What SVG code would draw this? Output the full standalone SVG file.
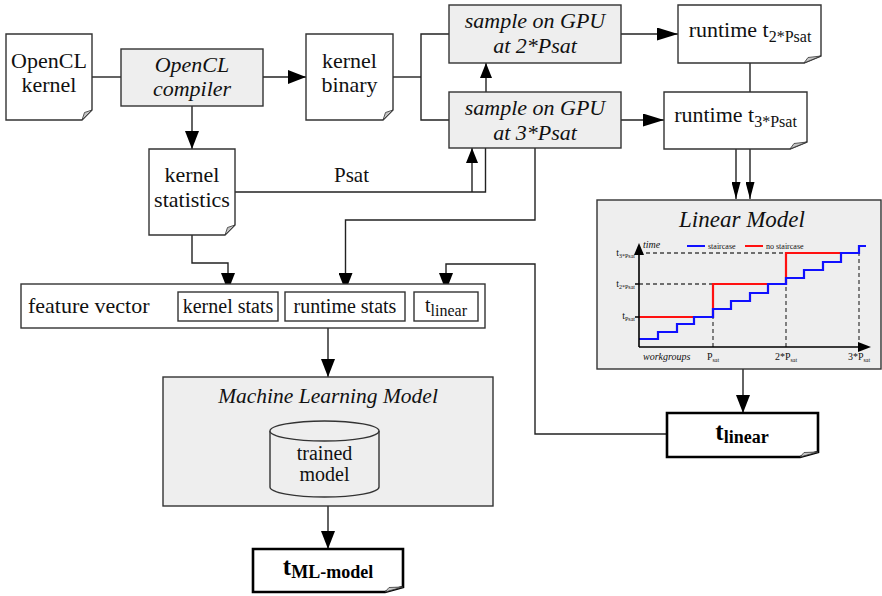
<svg xmlns="http://www.w3.org/2000/svg" width="882" height="596" viewBox="0 0 882 596">
  <defs>
    <style>
      .box{fill:#eeeeee;stroke:#333;stroke-width:1.4}
      .doc{fill:#fff;stroke:#333;stroke-width:1.4}
      .docb{fill:#fff;stroke:#000;stroke-width:2.6}
      .fold{fill:#c4c4c4;stroke:#333;stroke-width:0.8}
      .plain{fill:#fff;stroke:#333;stroke-width:1.4}
      .wire{fill:none;stroke:#222;stroke-width:1.4}
      .dash{fill:none;stroke:#444;stroke-width:1.3;stroke-dasharray:4 3}
      .axis{fill:none;stroke:#000;stroke-width:1.6}
      .blue{fill:none;stroke:#1010ff;stroke-width:2.2}
      .red{fill:none;stroke:#ff1010;stroke-width:2.2}
      text{font-family:"Liberation Serif","Times New Roman",serif;fill:#111}
      .t22{font-size:22px;text-anchor:middle}
      .i22{font-size:22px;font-style:italic;text-anchor:middle}
      .t20{font-size:20px;text-anchor:middle}
      .b25{font-size:25px;font-weight:bold;text-anchor:middle;fill:#000}
      .ax{font-size:10px}
      .axi{font-size:10px;font-style:italic}
      .leg{font-size:8px}
    </style>
    <marker id="arr" markerUnits="userSpaceOnUse" markerWidth="18" markerHeight="14" refX="18" refY="7" orient="auto">
      <path d="M0,0 L18,7 L0,14 Z" fill="#000"/>
    </marker>
    <marker id="arrL" markerUnits="userSpaceOnUse" markerWidth="21" markerHeight="13" refX="21" refY="6.5" orient="auto">
      <path d="M0,0 L21,6.5 L0,13 Z" fill="#000"/>
    </marker>
    <marker id="arrS" markerUnits="userSpaceOnUse" markerWidth="15" markerHeight="12" refX="15" refY="6" orient="auto">
      <path d="M0,0 L15,6 L0,12 Z" fill="#000"/>
    </marker>
    <marker id="arrN" markerUnits="userSpaceOnUse" markerWidth="17" markerHeight="9" refX="17" refY="4.5" orient="auto">
      <path d="M0,0 L17,4.5 L0,9 Z" fill="#000"/>
    </marker>
  </defs>

  <rect width="882" height="596" fill="#fff"/>

  <!-- connectors -->
  <g id="connectors">
    <path class="wire" d="M92,77 H121"/>
    <path class="wire" d="M263,77 H306" marker-end="url(#arr)"/>
    <path class="wire" d="M192,106 V149" marker-end="url(#arr)"/>
    <path class="wire" d="M393,77 H421"/>
    <path class="wire" d="M449,34 H421 V120 H449"/>
    <path class="wire" d="M486,92 V63" marker-end="url(#arrS)"/>
    <path class="wire" d="M235,192 H485.5 V148"/>
    <path class="wire" d="M472,192 V148" marker-end="url(#arrS)"/>
    <path class="wire" d="M535,148 V220 H345.5 V291" marker-end="url(#arr)"/>
    <path class="wire" d="M192,235 V263 H228 V291" marker-end="url(#arr)"/>
    <path class="wire" d="M667,434 H535 V264 H446 V291" marker-end="url(#arr)"/>
    <path class="wire" d="M621,34 H678" marker-end="url(#arrL)"/>
    <path class="wire" d="M621,120 H664" marker-end="url(#arrL)"/>
    <path class="wire" d="M750,63 V92"/>
    <path class="wire" d="M736,149 V199" marker-end="url(#arrN)"/>
    <path class="wire" d="M750,149 V199" marker-end="url(#arrN)"/>
    <path class="wire" d="M743,369 V413" marker-end="url(#arr)"/>
    <path class="wire" d="M328,328 V377" marker-end="url(#arr)"/>
    <path class="wire" d="M328,506 V549" marker-end="url(#arr)"/>
    <text x="351.5" y="182" font-size="21" text-anchor="middle">Psat</text>
  </g>

  <!-- source kernel -->
  <g id="opencl-kernel">
    <path class="doc" d="M6,34 H92 V110 L82,120 H6 Z"/>
    <path class="fold" d="M92,110 L82,120 L84.5,112.5 Z"/>
    <text class="t22" x="49" y="68">OpenCL</text>
    <text class="t22" x="49" y="92">kernel</text>
  </g>

  <g id="opencl-compiler">
    <rect class="box" x="121" y="49" width="142" height="57"/>
    <text class="i22" x="192" y="72">OpenCL</text>
    <text class="i22" x="192" y="96">compiler</text>
  </g>

  <g id="kernel-binary">
    <path class="doc" d="M306,34 H393 V110 L383,120 H306 Z"/>
    <path class="fold" d="M393,110 L383,120 L385.5,112.5 Z"/>
    <text class="t22" x="349.5" y="68">kernel</text>
    <text class="t22" x="349.5" y="92">binary</text>
  </g>

  <g id="kernel-statistics">
    <path class="doc" d="M149,149 H235 V225 L225,235 H149 Z"/>
    <path class="fold" d="M235,225 L225,235 L227.5,227.5 Z"/>
    <text class="t22" x="192" y="182">kernel</text>
    <text class="t22" x="192" y="207">statistics</text>
  </g>

  <g id="sample-2psat">
    <rect class="box" x="449" y="5" width="172" height="58"/>
    <text class="i22" x="535" y="28">sample on GPU</text>
    <text class="i22" x="535" y="53">at 2*Psat</text>
  </g>

  <g id="sample-3psat">
    <rect class="box" x="449" y="92" width="172" height="56"/>
    <text class="i22" x="535" y="115">sample on GPU</text>
    <text class="i22" x="535" y="140">at 3*Psat</text>
  </g>

  <g id="runtime-2psat">
    <path class="doc" d="M678,5 H821 V56 L804,63 H678 Z"/>
    <path class="fold" d="M821,56 L804,63 L808,57.5 Z"/>
    <text class="t22" x="750" y="37">runtime t<tspan font-size="16" dy="5">2*Psat</tspan></text>
  </g>

  <g id="runtime-3psat">
    <path class="doc" d="M664,92 H807 V142 L790,149 H664 Z"/>
    <path class="fold" d="M807,142 L790,149 L794,143.5 Z"/>
    <text class="t22" x="735.5" y="122">runtime t<tspan font-size="16" dy="5">3*Psat</tspan></text>
  </g>

  <!-- linear model with its staircase chart -->
  <g id="linear-model">
    <rect class="box" x="597" y="200" width="284" height="169"/>
    <text x="742" y="227" font-size="23" font-style="italic" text-anchor="middle">Linear Model</text>

    <path class="dash" d="M639,253 H786 M639,284 H713 M713,347 V317 M786,347 V284 M859,347 V253"/>
    <path class="red" d="M639,317 H713 V284 H786 V253 H841"/>
    <path class="blue" d="M639,339 H658 V332 H677 V324 H694 V317 H713 V309 H731 V301 H750 V293 H768 V284 H786 V278 H804 V270 H823 V262 H841 V253 H859 V246 H866"/>

    <path class="axis" d="M639,347 H860 M639,347 V253 M635,317 H639 M635,284 H639"/>
    <polygon points="634,255 639,243 644,255" fill="#000"/>
    <polygon points="858,342 871,347 858,352" fill="#000"/>

    <text class="axi" x="643" y="248">time</text>
    <path d="M687,246 H705" stroke="#1010ff" stroke-width="2"/>
    <text class="leg" x="708" y="249">staircase</text>
    <path d="M745,246 H763" stroke="#ff1010" stroke-width="2"/>
    <text class="leg" x="766" y="249">no staircase</text>

    <text class="ax" x="635" y="256" text-anchor="end">t<tspan font-size="6" dy="2">3*Psat</tspan></text>
    <text class="ax" x="635" y="287" text-anchor="end">t<tspan font-size="6" dy="2">2*Psat</tspan></text>
    <text class="ax" x="635" y="319" text-anchor="end">t<tspan font-size="6" dy="2">Psat</tspan></text>

    <text class="axi" x="643" y="360">workgroups</text>
    <text class="ax" x="713" y="360" text-anchor="middle">P<tspan font-size="6" dy="2">sat</tspan></text>
    <text class="ax" x="786" y="360" text-anchor="middle">2*P<tspan font-size="6" dy="2">sat</tspan></text>
    <text class="ax" x="859" y="360" text-anchor="middle">3*P<tspan font-size="6" dy="2">sat</tspan></text>
  </g>

  <g id="t-linear">
    <path class="docb" d="M667,413 H818 V452 L800,457 H667 Z"/>
    <path class="fold" d="M818,452 L800,457 L804,452.5 Z"/>
    <text class="b25" x="742" y="440">t<tspan font-size="18" dy="3">linear</tspan></text>
  </g>

  <g id="feature-vector">
    <rect class="plain" x="21" y="284" width="464" height="44"/>
    <text x="28" y="313" font-size="22">feature vector</text>
    <rect class="plain" x="178" y="292" width="100" height="29"/>
    <text class="t20" x="228" y="313">kernel stats</text>
    <rect class="plain" x="285" y="292" width="120" height="29"/>
    <text class="t20" x="345" y="313">runtime stats</text>
    <rect class="plain" x="414" y="292" width="64" height="29"/>
    <text class="t20" x="446" y="312">t<tspan font-size="16" dy="4">linear</tspan></text>
  </g>

  <g id="ml-model">
    <rect class="box" x="163" y="377" width="330" height="129"/>
    <text x="328" y="403" font-size="21.5" font-style="italic" text-anchor="middle">Machine Learning Model</text>
    <path class="box" d="M270,431 V487 A54.5,10 0 0 0 379,487 V431"/>
    <ellipse class="box" cx="324.5" cy="431" rx="54.5" ry="10"/>
    <text class="t20" x="324.5" y="460">trained</text>
    <text class="t20" x="324.5" y="481">model</text>
  </g>

  <g id="t-ml-model">
    <path class="docb" d="M253,549 H403 V587 L385,592 H253 Z"/>
    <path class="fold" d="M403,587 L385,592 L389,587.5 Z"/>
    <text class="b25" x="328" y="575">t<tspan font-size="18" dy="3">ML-model</tspan></text>
  </g>
</svg>
